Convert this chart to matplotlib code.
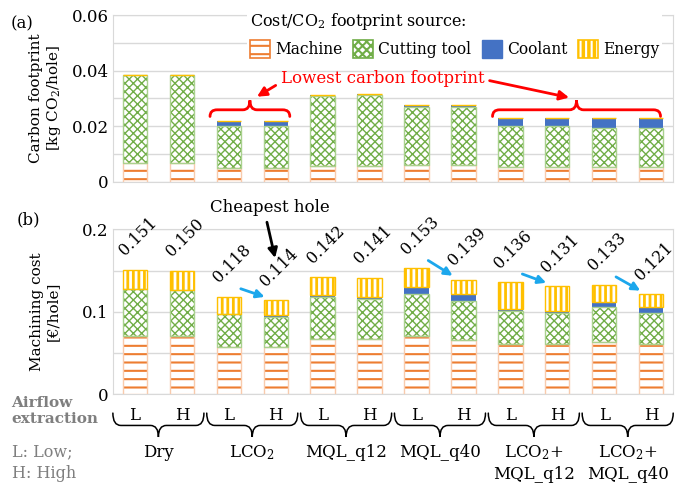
import numpy as np
import matplotlib
matplotlib.use('Agg')
import matplotlib.pyplot as plt
from matplotlib.patches import Patch, PathPatch
from matplotlib.path import Path
from matplotlib.legend_handler import HandlerTuple
from matplotlib.ticker import MultipleLocator, FuncFormatter

plt.rcParams['font.family'] = 'DejaVu Serif'
plt.rcParams['mathtext.fontset'] = 'dejavuserif'
plt.rcParams['hatch.linewidth'] = 1.5

# data
groups = ['Dry', 'LCO$_2$', 'MQL_q12', 'MQL_q40', 'LCO$_2$+\nMQL_q12', 'LCO$_2$+\nMQL_q40']
airflow = ['L', 'H']

# carbon footprint [kg CO2/hole]
co2_machine = [0.0066, 0.0066, 0.0048, 0.0048, 0.0058, 0.0058, 0.0060, 0.0060, 0.0054, 0.0054, 0.0054, 0.0054]
co2_tool = [0.0319, 0.0319, 0.0153, 0.0153, 0.0252, 0.0255, 0.0210, 0.0210, 0.0147, 0.0147, 0.0141, 0.0141]
co2_coolant = [0.0, 0.0, 0.0019, 0.0019, 0.0003, 0.0003, 0.0005, 0.0005, 0.0029, 0.0029, 0.0035, 0.0035]
co2_energy = [0.0] * 12

# machining cost [EUR/hole]
cost_machine = [0.0710, 0.0710, 0.0567, 0.0567, 0.0670, 0.0670, 0.0705, 0.0657, 0.0608, 0.0608, 0.0636, 0.0608]
cost_tool = [0.0567, 0.0550, 0.0402, 0.0373, 0.0513, 0.0490, 0.0511, 0.0478, 0.0397, 0.0381, 0.0418, 0.0372]
cost_coolant = [0.0, 0.0, 0.0008, 0.0017, 0.0017, 0.0016, 0.0089, 0.0081, 0.0025, 0.0024, 0.0068, 0.0080]
cost_energy = [0.0233, 0.0240, 0.0203, 0.0183, 0.0220, 0.0234, 0.0225, 0.0174, 0.0330, 0.0297, 0.0208, 0.0150]
cost_total = [0.151, 0.150, 0.118, 0.114, 0.142, 0.141, 0.153, 0.139, 0.136, 0.131, 0.133, 0.121]

ORANGE = '#ED7D31'
GREEN = '#70AD47'
BLUE = '#4472C4'
YELLOW = '#FFC000'
GRID = '#D9D9D9'
GRAY = '#7F7F7F'

# style per source: (face, hatch, hatch colour, outline colour, hatch linewidth)
styles = {
    'Machine': ('white', '--', ORANGE, '#F8CBAD', 1.5),
    'Cutting tool': ('white', 'xxxx', GREEN, '#A9D18E', 1.0),
    'Coolant': (BLUE, None, BLUE, BLUE, 1.0),
    'Energy': (YELLOW, '|||', 'white', YELLOW, 2.0),
}

x = np.arange(12)
W = 0.52


def set_hlw(artists, hlw):
    for a in artists:
        if hasattr(a, 'set_hatch_linewidth'):
            a.set_hatch_linewidth(hlw)


def stacked(ax, parts):
    bottom = np.zeros(12)
    for name, vals in parts:
        vals = np.array(vals)
        face, hatch, hc, ec, hlw = styles[name]
        if hatch is None:
            ax.bar(x, vals, W, bottom=bottom, color=face, linewidth=0, zorder=3)
        else:
            bars = ax.bar(x, vals, W, bottom=bottom, facecolor=face, edgecolor=hc,
                          hatch=hatch, linewidth=0, zorder=3)
            set_hlw(bars, hlw)
            ax.bar(x, vals, W, bottom=bottom, fill=False, edgecolor=ec,
                   linewidth=1, zorder=4)
        bottom += vals


def brace(ax, x0, x1, y_end, y_flat, y_tip, r, transform, **kw):
    xm = (x0 + x1) / 2
    verts = [(x0, y_end), (x0, y_flat), (x0 + r, y_flat), (xm - r, y_flat),
             (xm, y_flat), (xm, y_tip), (xm, y_flat), (xm + r, y_flat),
             (x1 - r, y_flat), (x1, y_flat), (x1, y_end)]
    codes = [Path.MOVETO, Path.CURVE3, Path.CURVE3, Path.LINETO,
             Path.CURVE3, Path.CURVE3, Path.CURVE3, Path.CURVE3,
             Path.LINETO, Path.CURVE3, Path.CURVE3]
    ax.add_patch(PathPatch(Path(verts, codes), fill=False, transform=transform,
                           clip_on=False, capstyle='round', **kw))
    return xm, y_tip


def style_axes(ax, top, major, minor):
    ax.set_xlim(-0.47, 11.47)
    ax.set_ylim(0, top)
    ax.yaxis.set_major_locator(MultipleLocator(major))
    ax.yaxis.set_minor_locator(MultipleLocator(minor))
    ax.yaxis.set_major_formatter(FuncFormatter(lambda v, p: '0' if v == 0 else f'{v:g}'))
    ax.grid(axis='y', which='both', color=GRID, lw=1, zorder=0)
    for s in ax.spines.values():
        s.set_color(GRID)
    ax.tick_params(axis='y', which='both', length=0, labelsize=12, pad=3)
    ax.tick_params(axis='x', length=0)


fig = plt.figure(figsize=(6.8, 4.86), dpi=100)
ax1 = fig.add_axes([0.166, 0.626, 0.824, 0.343])
ax2 = fig.add_axes([0.166, 0.189, 0.824, 0.339])

# (a) carbon footprint
stacked(ax1, [('Machine', co2_machine), ('Cutting tool', co2_tool),
              ('Coolant', co2_coolant), ('Energy', co2_energy)])
style_axes(ax1, 0.06, 0.02, 0.01)
ax1.set_xticks(x)
ax1.set_xticklabels([])
ax1.set_ylabel('Carbon footprint\n[kg CO$_2$/hole]', fontsize=11, labelpad=6)
fig.text(0.016, 0.968, '(a)', fontsize=12, va='top')

t1 = brace(ax1, 1.6, 3.3, 0.0235, 0.0259, 0.0293, 0.15, ax1.transData, color='red', lw=2)
t2 = brace(ax1, 7.62, 11.2, 0.0235, 0.0259, 0.0293, 0.15, ax1.transData, color='red', lw=2)
ax1.text(5.28, 0.0372, 'Lowest carbon footprint', color='red', fontsize=12,
         ha='center', va='center', zorder=6)
ax1.annotate('', xy=(t1[0] + 0.1, t1[1] + 0.0008), xytext=(3.05, 0.0352),
             arrowprops=dict(arrowstyle='-|>', color='red', lw=2, mutation_scale=14))
ax1.annotate('', xy=(t2[0] - 0.1, t2[1] + 0.0008), xytext=(7.5, 0.0366),
             arrowprops=dict(arrowstyle='-|>', color='red', lw=2, mutation_scale=14))

handles = []
for name in styles:
    face, hatch, hc, ec, hlw = styles[name]
    if hatch is None:
        handles.append(Patch(facecolor=face, edgecolor=ec, lw=1))
    else:
        fill = Patch(facecolor=face, edgecolor=hc, hatch=hatch, lw=0)
        set_hlw([fill], hlw)
        edge = ORANGE if name == 'Machine' else (GREEN if name == 'Cutting tool' else ec)
        handles.append((fill, Patch(fill=False, edgecolor=edge, lw=1.2)))
leg = ax1.legend(handles=handles, labels=list(styles), ncol=4, loc='upper left',
                 handler_map={tuple: HandlerTuple(ndivide=1, pad=0)},
                 bbox_to_anchor=(247 / 680, 1 - 8 / 486), bbox_transform=fig.transFigure,
                 title='Cost/CO$_2$ footprint source:', title_fontsize=11.5, fontsize=11.2,
                 frameon=True, fancybox=False, edgecolor='none', facecolor='white', framealpha=1,
                 handlelength=1.3, handleheight=1.4, handletextpad=0.3, columnspacing=0.7,
                 borderpad=0.2, borderaxespad=0, alignment='left')
leg.set_zorder(5)

# (b) machining cost
stacked(ax2, [('Machine', cost_machine), ('Cutting tool', cost_tool),
              ('Coolant', cost_coolant), ('Energy', cost_energy)])
style_axes(ax2, 0.2, 0.1, 0.05)
ax2.set_xticks(x)
ax2.set_xticklabels(airflow * len(groups), fontsize=12)
ax2.tick_params(axis='x', pad=9)
ax2.set_ylabel('Machining cost\n[€/hole]', fontsize=11, labelpad=16)
fig.text(0.024, 0.565, '(b)', fontsize=12, va='top')

for i, tot in enumerate(cost_total):
    ax2.text(i - 0.15, tot + 0.013, f'{tot:.3f}', rotation=45, rotation_mode='anchor',
             ha='left', va='bottom', fontsize=11.5, zorder=6)

# cheaper variant arrows (L -> H)
for i in [2, 6, 8, 10]:
    ax2.annotate('', xy=(i + 0.82, cost_total[i + 1] + 0.003),
                 xytext=(i + 0.2, cost_total[i] + 0.011),
                 arrowprops=dict(arrowstyle='-|>', color='#1CA7EC', lw=2, mutation_scale=12))

ax2.text(2.87, 0.227, 'Cheapest hole', fontsize=12, ha='center', va='center')
ax2.annotate('', xy=(3.0, 0.162), xytext=(2.8, 0.212),
             arrowprops=dict(arrowstyle='-|>', color='black', lw=2, mutation_scale=14),
             annotation_clip=False)

# group braces under the airflow labels
tr = ax2.get_xaxis_transform()
for g, name in enumerate(groups):
    xm, _ = brace(ax2, 2 * g - 0.47, 2 * g + 1.47, -0.115, -0.19, -0.26, 0.17, tr,
                  color='black', lw=1.1)
    ax2.text(xm, -0.30, name, transform=tr, ha='center', va='top', fontsize=12,
             linespacing=1.3)

fig.text(0.017, 0.186, 'Airflow\nextraction', fontsize=11, fontweight='bold',
         color=GRAY, va='top', linespacing=1.25)
fig.text(0.017, 0.088, 'L: Low;\nH: High', fontsize=11.5, color=GRAY, va='top',
         linespacing=1.4)

fig.savefig('out.png', dpi=100)
